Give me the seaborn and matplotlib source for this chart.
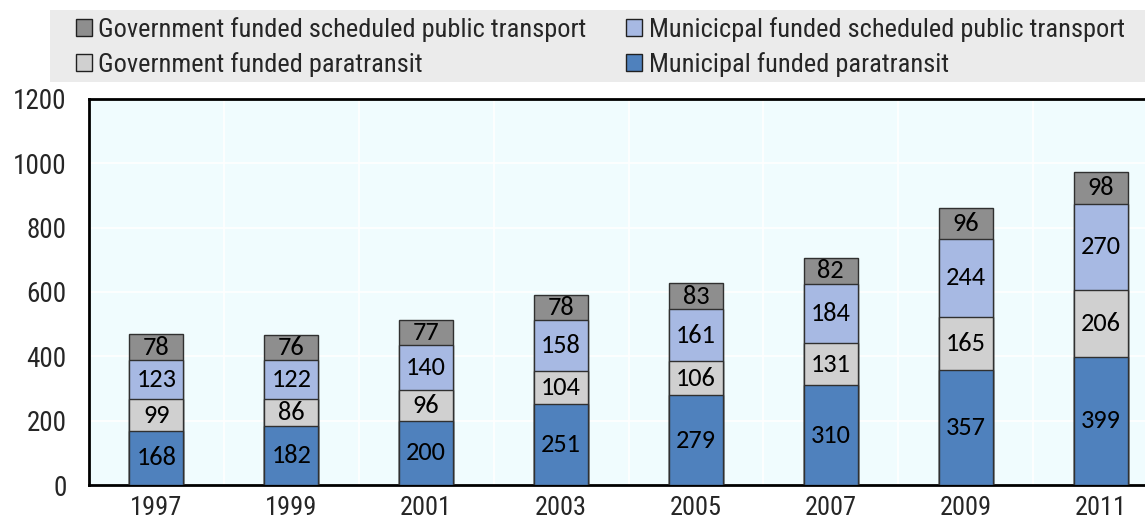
import numpy as np
import pandas as pd
import matplotlib
matplotlib.use("Agg")
import matplotlib.pyplot as plt
from matplotlib.patches import Patch, Rectangle
import seaborn as sns

years = ["1997", "1999", "2001", "2003", "2005", "2007", "2009", "2011"]
mun_para = [168, 182, 200, 251, 279, 310, 357, 399]
gov_para = [99, 86, 96, 104, 106, 131, 165, 206]
mun_sched = [123, 122, 140, 158, 161, 184, 244, 270]
gov_sched = [78, 76, 77, 78, 83, 82, 96, 98]

series = ["Municipal funded paratransit", "Government funded paratransit",
          "Municicpal funded scheduled public transport",
          "Government funded scheduled public transport"]
colors = ["#4F81BD", "#D0D0D0", "#A7B9E3", "#8E8E8E"]

df = pd.DataFrame({"year": years, series[0]: mun_para, series[1]: gov_para,
                   series[2]: mun_sched, series[3]: gov_sched})
cum = df[series].cumsum(axis=1)
bottoms = cum - df[series]

sns.set_style("white")
plt.rcParams["font.family"] = ["Roboto Condensed", "Archivo Narrow", "DejaVu Sans"]

fig = plt.figure(figsize=(11.45, 5.22), dpi=100)
ax = fig.add_axes([89 / 1145, 1 - 485 / 522, (1168 - 89) / 1145, (485 - 99) / 522])
ax.set_facecolor("#F0FCFE")

# stacked bars: draw cumulative totals from top segment down
for s, c in reversed(list(zip(series, colors))):
    sns.barplot(x=df["year"], y=cum[s], color=c, width=0.4, edgecolor="#303030",
                linewidth=1.0, saturation=1, ax=ax, zorder=3)

for i in range(len(years)):
    for s in series:
        v = df.loc[i, s]
        ax.text(i, bottoms.loc[i, s] + v / 2, str(v), ha="center", va="center",
                fontsize=19, family=["Carlito", "DejaVu Sans"], color="black", zorder=4)

ax.set_xlim(-0.5, 7.5)
ax.set_ylim(0, 1200)
ax.set_yticks(range(0, 1201, 200))
ax.set_xticks(np.arange(0.5, 7, 1), minor=True)
ax.set_xlabel("")
ax.set_ylabel("")
ax.grid(False)
ax.yaxis.grid(True, color="white", lw=1.2, zorder=0)
ax.xaxis.grid(True, which="minor", color="white", lw=1.2, zorder=0)
ax.tick_params(axis="x", which="major", length=0, labelsize=19, pad=8)
ax.tick_params(axis="x", which="minor", direction="in", length=8, width=2, color="black")
ax.tick_params(axis="y", direction="in", length=8, width=2, color="black", labelsize=19.5, pad=16)
for side in ["left", "bottom", "top"]:
    ax.spines[side].set_visible(True)
    ax.spines[side].set_color("black")
    ax.spines[side].set_linewidth(2)
ax.spines["right"].set_visible(False)

# grey band behind the legend
fig.add_artist(Rectangle((50 / 1145, 1 - 82 / 522), 1100 / 1145, 72 / 522,
                         transform=fig.transFigure, facecolor="#EBEBEB",
                         edgecolor="none", zorder=0))

handles = [Patch(facecolor=colors[3], edgecolor="#202020", lw=1.0, label=series[3]),
           Patch(facecolor=colors[1], edgecolor="#202020", lw=1.0, label=series[1]),
           Patch(facecolor=colors[2], edgecolor="#202020", lw=1.0, label=series[2]),
           Patch(facecolor=colors[0], edgecolor="#202020", lw=1.0, label=series[0])]
leg = fig.legend(handles=handles, ncol=2, loc="upper left",
                 bbox_to_anchor=(76 / 1145, 1 - 17 / 522),
                 frameon=False, fontsize=19,
                 handlelength=0.6, handleheight=0.6, handletextpad=0.25,
                 labelspacing=0.38, borderpad=0, borderaxespad=0, columnspacing=1.5)

fig.savefig("out.png", dpi=100)
